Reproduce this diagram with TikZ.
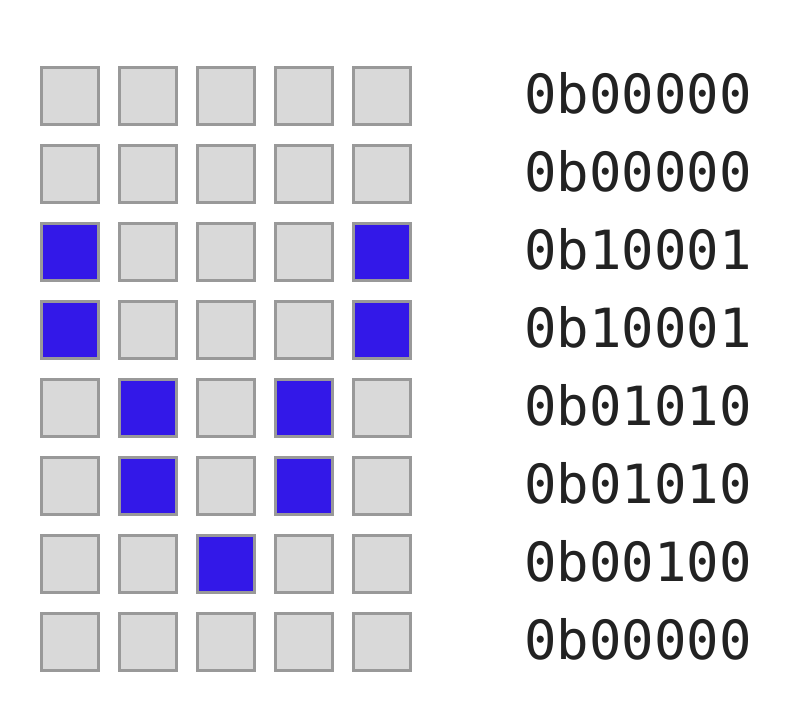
\documentclass[tikz,border=0pt]{standalone}
\usepackage{fontspec}
\setmonofont{DejaVu Sans Mono}
\usetikzlibrary{positioning}

\definecolor{ledoff}{HTML}{D9D9D9}
\definecolor{ledrim}{HTML}{999999}
\definecolor{ledon}{HTML}{3318E8}
\definecolor{codeink}{HTML}{222222}

\tikzset{
  led/.style={draw=ledrim, line width=3.3pt, minimum size=56.7pt, inner sep=0pt},
  bit0/.style={fill=ledoff},
  bit1/.style={fill=ledon},
  rowcode/.style={anchor=base west, inner sep=0pt, text=codeink,
    font=\ttfamily\fontsize{54pt}{54pt}\selectfont}
}

\begin{document}
\begin{tikzpicture}[x=1pt, y=-1pt]
  \useasboundingbox (0,0) rectangle (808,726);
  % 5x8 matrix of LEDs
  \foreach \row [count=\r from 0] in {{0,0,0,0,0},{0,0,0,0,0},{1,0,0,0,1},{1,0,0,0,1},
                                      {0,1,0,1,0},{0,1,0,1,0},{0,0,1,0,0},{0,0,0,0,0}}
    \foreach \b [count=\c from 0] in \row
      \node[led, bit\b] (led-\r-\c) at (70+78*\c, 96+78*\r) {};
  % binary value of every row
  \foreach \code [count=\r from 0] in {00000,00000,10001,10001,01010,01010,00100,00000}
    \node[rowcode] (code-\r) at (524, 113+78*\r) {0b\code};
\end{tikzpicture}
\end{document}
